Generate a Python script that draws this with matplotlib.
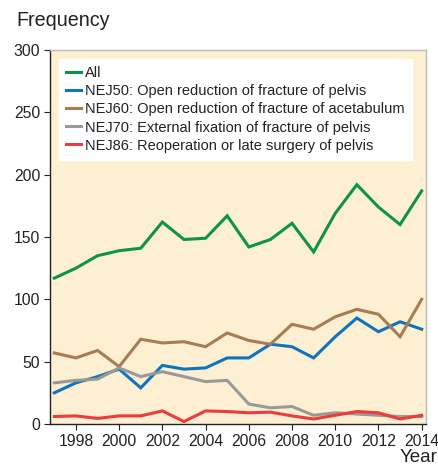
import matplotlib
matplotlib.use("Agg")
import matplotlib.pyplot as plt

plt.rcParams['font.family'] = ['Liberation Sans', 'DejaVu Sans']

years = list(range(1997, 2015))
all_vals = [117, 125, 135, 139, 141, 162, 148, 149, 167, 142, 148, 161, 138, 169, 192, 174, 160, 187]
nej50 = [25, 33, 38, 44, 29, 47, 44, 45, 53, 53, 64, 62, 53, 70, 85, 74, 82, 76]
nej60 = [57, 53, 59, 46, 68, 65, 66, 62, 73, 67, 64, 80, 76, 86, 92, 88, 70, 100]
nej70 = [33, 35, 36, 45, 38, 42, 38, 34, 35, 16, 13, 14, 7, 9, 8, 7, 6, 6]
nej86 = [6, 6.5, 4.5, 6.5, 6.5, 10.5, 2, 10.5, 10, 9, 9.5, 6.5, 4, 7, 10, 9, 4, 7]

labels = ["All",
          "NEJ50: Open reduction of fracture of pelvis",
          "NEJ60: Open reduction of fracture of acetabulum",
          "NEJ70: External fixation of fracture of pelvis",
          "NEJ86: Reoperation or late surgery of pelvis"]
colors = ["#0f9445", "#0f74bd", "#a87c52", "#999999", "#ee3b3b"]
series = [all_vals, nej50, nej60, nej70, nej86]

fig = plt.figure(figsize=(4.39, 4.67), dpi=100)
ax = fig.add_axes([50/439, 43/467, 376/439, 374/467])
ax.set_facecolor("#fdefd1")

for vals, c, lab in zip(series, colors, labels):
    ax.plot(years, vals, color=c, lw=2.2, label=lab, solid_joinstyle='miter')

ax.set_xlim(1996.8, 2014.2)
ax.set_ylim(0, 300)
ax.set_xticks(range(1998, 2015, 2))
ax.set_yticks(range(0, 301, 50))
ax.tick_params(labelsize=11.3, length=4, color="#222222", labelcolor="#222222", pad=3)

for s in ["left", "bottom"]:
    ax.spines[s].set_color("#222222")
    ax.spines[s].set_linewidth(1.0)
for s in ["right", "top"]:
    ax.spines[s].set_color("#bbbbbb")
    ax.spines[s].set_linewidth(1.0)

leg = ax.legend(loc="upper left", bbox_to_anchor=(0.024, 0.976), fontsize=10.5,
                handlelength=1.0, handletextpad=0.3, labelspacing=0.28,
                borderpad=0.5, borderaxespad=0, frameon=True, fancybox=False)
leg.get_frame().set_facecolor("white")
leg.get_frame().set_edgecolor("white")
leg.get_frame().set_alpha(1)
for t in leg.get_texts():
    t.set_color("#222222")

fig.text(16/439, 1 - 20/467, "Frequency", fontsize=14.2, va="center", ha="left", color="#222222")
fig.text(437/439, 1 - 458/467, "Year", fontsize=13.5, va="center", ha="right", color="#222222")

fig.savefig("out.png", dpi=100)
